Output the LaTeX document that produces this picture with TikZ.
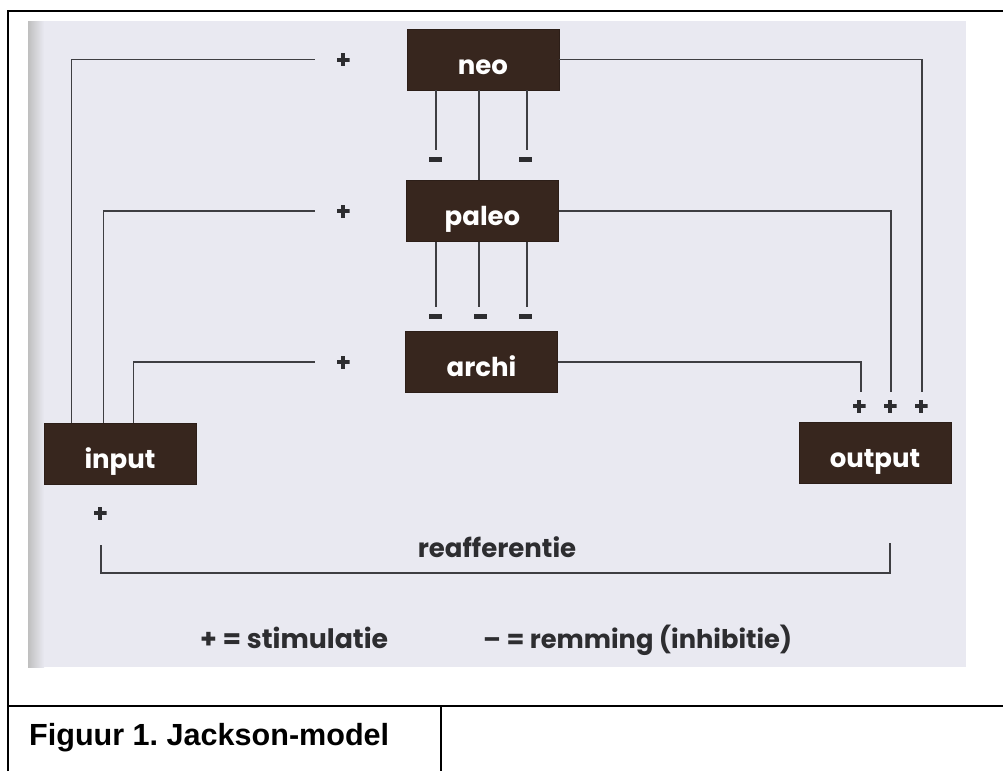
\documentclass[tikz,border=0pt]{standalone}
\usepackage{fontspec}
\setmainfont{Poppins}
\newfontfamily\capfont{Liberation Sans}
\usetikzlibrary{calc}
\frenchspacing
\definecolor{bg}{RGB}{233,233,241}
\definecolor{boxc}{RGB}{55,38,30}
\definecolor{linec}{RGB}{62,62,66}
\definecolor{signc}{RGB}{45,45,48}
\begin{document}
\begin{tikzpicture}[x=1pt,y=-1pt,
  box/.style={rectangle, fill=boxc, draw=boxc!80!black, inner sep=0pt,
    minimum width=152pt, minimum height=61pt, text=white,
    text height=29pt, text depth=0pt,
    font=\fontsize{26}{26}\selectfont\bfseries},
  conn/.style={draw=linec, line width=1.3pt},
  minusmark/.style={rectangle, fill=signc, inner sep=0pt,
    minimum width=13pt, minimum height=5pt},
  plusmark/.style={rectangle, inner sep=0pt, minimum size=13pt,
    path picture={
      \fill[signc] ($(path picture bounding box.center)+(-6.5pt,2pt)$) rectangle ($(path picture bounding box.center)+(6.5pt,-2pt)$);
      \fill[signc] ($(path picture bounding box.center)+(-2pt,6.5pt)$) rectangle ($(path picture bounding box.center)+(2pt,-6.5pt)$);
    }},
  lbl/.style={text=signc, inner sep=0pt},
]
\useasboundingbox (0,0) rectangle (1003,771);
% scanned page background
\fill[bg] (28,21) rectangle (966,667);
\shade[left color=gray!50, right color=bg] (28,21) rectangle (44,667);
% table lines
\draw[line width=2.5pt] (8,771) -- (8,11) -- (1003,11);
\draw[line width=2.5pt] (8,706) -- (1003,706);
\draw[line width=2.5pt] (441,706) -- (441,771);

% boxes
\node[box] (neo) at (483,59.5) {neo};
\node[box] (paleo) at (482.5,211) {paleo};
\node[box] (archi) at (481.5,362) {archi};
\node[box] (input) at (120,453.5) {input};
\node[box] (output) at (875,452.5) {output};

% right side: to output
\coordinate (o1) at (861,392);
\coordinate (o2) at (891,392);
\coordinate (o3) at (922,392);
\draw[conn] (neo.east) -| (o3);
\draw[conn] (paleo.east) -| (o2);
\draw[conn] (archi.east) -| (o1);
\node[plusmark] (po1) at ($(o1)+(-2,14)$) {};
\node[plusmark] (po2) at ($(o2)+(-1,14)$) {};
\node[plusmark] (po3) at ($(o3)+(-1,14)$) {};

% left side: from input
\coordinate (l1) at (315,59.5);
\coordinate (l2) at (315,211);
\coordinate (l3) at (315,362);
\draw[conn] ($(input.north west)+(28,0)$) |- (l1);
\draw[conn] ($(input.north west)+(60,0)$) |- (l2);
\draw[conn] ($(input.north west)+(90,0)$) |- (l3);
\node[plusmark] (pl1) at ($(l1)+(28,0)$) {};
\node[plusmark] (pl2) at ($(l2)+(28,0)$) {};
\node[plusmark] (pl3) at ($(l3)+(28,0)$) {};

% inhibition from neo
\coordinate (m1) at (436,150);
\coordinate (m2) at (527,150);
\coordinate (mx) at (479,0);
\draw[conn] (m1 |- neo.south) -- (m1);
\draw[conn] (m2 |- neo.south) -- (m2);
\draw[conn] (mx |- neo.south) -- (mx |- paleo.north);
\node[minusmark] (mm1) at (435,159) {};
\node[minusmark] (mm2) at (525,159) {};

% inhibition to archi
\coordinate (n1) at (436,307);
\coordinate (n2) at (479,307);
\coordinate (n3) at (527,307);
\draw[conn] (n1 |- paleo.south) -- (n1);
\draw[conn] (n2 |- paleo.south) -- (n2);
\draw[conn] (n3 |- paleo.south) -- (n3);
\node[minusmark] (mn1) at (435,316) {};
\node[minusmark] (mn2) at (480,316) {};
\node[minusmark] (mn3) at (525,316) {};

% reafferentie
\coordinate (r1) at (890,543);
\coordinate (r2) at (101,545);
\draw[conn] (r1) -- ++(0,30) -| (r2);
\node[plusmark] (pr) at (100,513) {};
\node[lbl, anchor=base, font=\fontsize{26}{26}\selectfont\bfseries] (reaf) at (497,557) {reafferentie};

% legend
\node[lbl, anchor=base west] (leg1) at (200,648) {\resizebox{188pt}{!}{\fontsize{28}{28}\selectfont\bfseries + = stimulatie}};
\node[lbl, anchor=base west] (leg2) at (483,648) {\resizebox{309pt}{!}{\fontsize{28}{28}\selectfont\bfseries – = remming (inhibitie)}};

% caption
\node[anchor=base west, inner sep=0pt] (cap) at (29,745) {\resizebox{360pt}{!}{\capfont\fontsize{31}{31}\selectfont\bfseries Figuur 1. Jackson-model}};
\end{tikzpicture}
\end{document}
